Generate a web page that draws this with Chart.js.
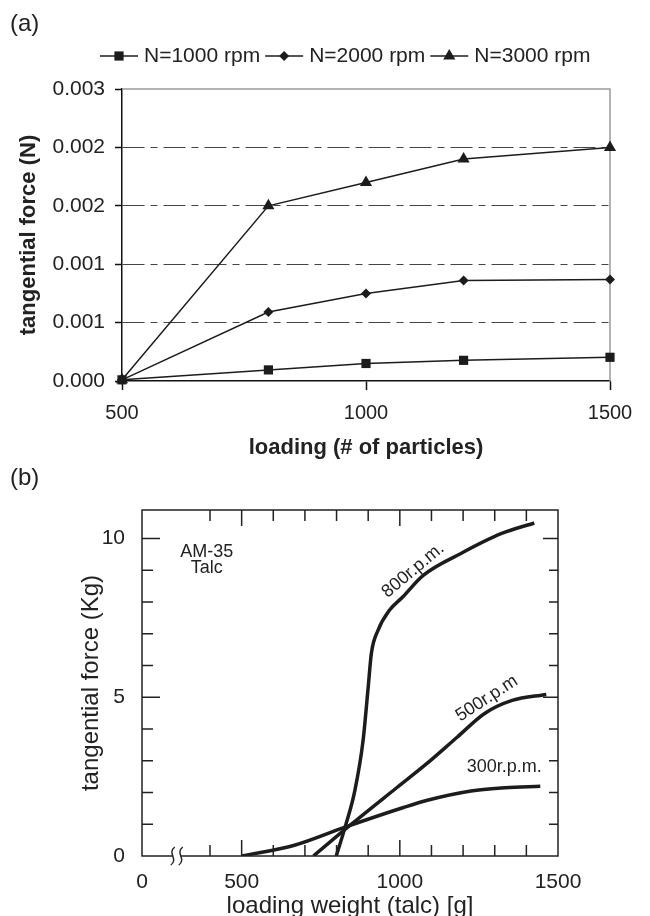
<!DOCTYPE html>
<html lang="en">
<head>
    <meta charset="UTF-8">
    <title>Tangential force vs loading</title>
    <script src="https://cdn.jsdelivr.net/npm/chart.js"></script>
    <style>
        body { margin: 0; background: #fff; overflow: hidden; }
        #wrap { position: relative; width: 650px; height: 916px; }
        canvas { position: absolute; left: 0; }
        .tag { position: absolute; left: 10px; font: 24px Arial, "Liberation Sans", sans-serif; color: #222; z-index: 2; }
    </style>
</head>
<body>
<div id="wrap">
    <canvas id="chartA" width="650" height="462" style="top:0"></canvas>
    <canvas id="chartB" width="650" height="470" style="top:462px"></canvas>
    <div class="tag" style="top:9px">(a)</div>
    <div class="tag" style="top:463px">(b)</div>
</div>

<script>
    // ---- panel (a) data ----
    const loadingA = [500, 800, 1000, 1200, 1500];
    const force1000 = [0.00001, 0.000095, 0.00015, 0.000177, 0.000203];
    const force2000 = [0.00001, 0.00059, 0.00075, 0.00086, 0.00087];
    const force3000 = [0.00001, 0.0015, 0.0017, 0.0019, 0.002];
    const yTicksA = [0, 0.0005, 0.001, 0.0015, 0.002, 0.0025];
    const yTickLabelsA = ['0.000', '0.001', '0.001', '0.002', '0.002', '0.003'];
    const xTicksA = [500, 1000, 1500];
    const xTickLabelsA = ['500', '1000', '1500'];

    // ---- panel (b) data ----
    const x300 = [500, 667, 827, 1009, 1084, 1225, 1333, 1444];
    const y300 = [0, 0.34, 0.91, 1.52, 1.75, 2.05, 2.15, 2.2];
    const x500 = [727, 843, 990, 1084, 1182, 1268, 1355, 1463];
    const y500 = [0, 0.97, 2.15, 2.9, 3.75, 4.49, 4.9, 5.09];
    const x800 = [799, 827, 858, 884, 900, 910, 931, 967, 1009, 1074, 1193, 1322, 1425];
    const y800 = [0, 0.91, 2.07, 3.65, 5.32, 6.38, 7.11, 7.74, 8.16, 8.84, 9.53, 10.16, 10.49];
    const xBreakMin = 185;   // axis is broken: this value is drawn as "0"
    const xBreakAt = 295;
    const xTicksB = [xBreakMin, 500, 1000, 1500];
    const xTickLabelsB = ['0', '500', '1000', '1500'];
    const xMinorB = [400, 500, 600, 700, 800, 900, 1000, 1100, 1200, 1300, 1400];
    const yTicksB = [0, 5, 10];
    const yTickLabelsB = ['0', '5', '10'];
    const yMinorB = [1, 2, 3, 4, 5, 6, 7, 8, 9, 10];

    const FONT = 'Arial, "Liberation Sans", sans-serif';
    const INK = '#1c1c1c';

    function pts(xs, ys) {
        return xs.map((x, i) => ({x: x, y: ys[i]}));
    }

    function marker(ctx, style, r, x, y) {
        ctx.fillStyle = INK;
        ctx.beginPath();
        if (style === 'rect') {
            const s = r * Math.SQRT1_2;
            ctx.rect(x - s, y - s, 2 * s, 2 * s);
        } else if (style === 'rectRot') {
            ctx.moveTo(x - r, y); ctx.lineTo(x, y - r); ctx.lineTo(x + r, y); ctx.lineTo(x, y + r);
        } else {
            const h = r * 0.5, w = r * Math.sin(Math.PI / 3);
            ctx.moveTo(x, y - r); ctx.lineTo(x + w, y + h); ctx.lineTo(x - w, y + h);
        }
        ctx.closePath();
        ctx.fill();
    }

    const legendA = {
        id: 'legendA',
        afterDraw(chart) {
            const ctx = chart.ctx;
            ctx.save();
            ctx.font = '21px ' + FONT;
            ctx.textBaseline = 'middle';
            let x = 100;
            const y = 56;
            chart.data.datasets.forEach(ds => {
                ctx.strokeStyle = INK;
                ctx.lineWidth = 1.5;
                ctx.beginPath(); ctx.moveTo(x, y); ctx.lineTo(x + 38, y); ctx.stroke();
                marker(ctx, ds.pointStyle, ds.pointRadius, x + 19, y);
                ctx.fillStyle = '#222';
                ctx.fillText(ds.label, x + 44, y);
                x += 44 + ctx.measureText(ds.label).width + 5;
            });
            ctx.restore();
        }
    };

    const frameA = {
        id: 'frameA',
        beforeDatasetsDraw(chart) {
            const {ctx, chartArea: a} = chart;
            ctx.save();
            ctx.strokeStyle = '#9a9a9a';
            ctx.lineWidth = 1.5;
            ctx.beginPath();
            ctx.moveTo(a.left, a.top); ctx.lineTo(a.right, a.top); ctx.lineTo(a.right, a.bottom);
            ctx.stroke();
            ctx.restore();
        }
    };

    new Chart(document.getElementById('chartA'), {
        type: 'line',
        data: {
            datasets: [
                {label: 'N=1000 rpm', data: pts(loadingA, force1000), pointStyle: 'rect', pointRadius: 6.5},
                {label: 'N=2000 rpm', data: pts(loadingA, force2000), pointStyle: 'rectRot', pointRadius: 5},
                {label: 'N=3000 rpm', data: pts(loadingA, force3000), pointStyle: 'triangle', pointRadius: 7}
            ].map(ds => Object.assign(ds, {
                borderColor: INK, backgroundColor: INK, borderWidth: 1.5,
                pointBorderWidth: 0, pointBackgroundColor: INK, tension: 0, clip: 8
            }))
        },
        options: {
            responsive: false,
            animation: false,
            devicePixelRatio: 1,
            layout: {padding: {top: 89, right: 40, left: 0, bottom: 0}},
            plugins: {legend: {display: false}, tooltip: {enabled: false}},
            scales: {
                x: {
                    type: 'linear', min: 500, max: 1500,
                    afterFit: s => { s.height = 81; },
                    afterBuildTicks: s => { s.ticks = xTicksA.map(v => ({value: v})); },
                    ticks: {
                        padding: 11, color: '#222', font: {family: FONT, size: 20},
                        callback: (v, i) => xTickLabelsA[i]
                    },
                    grid: {drawOnChartArea: false, tickLength: 9, tickColor: '#111', tickWidth: 1.5},
                    border: {color: '#111', width: 1.5},
                    title: {
                        display: true, text: 'loading (# of particles)', color: '#222',
                        font: {family: FONT, size: 22, weight: 'bold'}, padding: {top: 0, bottom: 1}
                    }
                },
                y: {
                    min: 0, max: 0.0025,
                    afterFit: s => { s.width = 122; },
                    afterBuildTicks: s => { s.ticks = yTicksA.map(v => ({value: v})); },
                    ticks: {
                        padding: 10, color: '#222', font: {family: FONT, size: 21},
                        callback: (v, i) => yTickLabelsA[i]
                    },
                    grid: {
                        color: c => (c.index === 0 || c.index === yTicksA.length - 1) ? 'rgba(0,0,0,0)' : '#444',
                        lineWidth: 1, tickLength: 7, tickColor: '#111', tickWidth: 1.5
                    },
                    border: {color: '#111', width: 1.5, dash: [22, 6, 7, 6]},
                    title: {
                        display: true, text: 'tangential force (N)', color: '#222',
                        font: {family: FONT, size: 22, weight: 'bold'}, padding: {top: 16, bottom: 0}
                    }
                }
            }
        },
        plugins: [frameA, legendA]
    });

    // ---- panel (b) ----
    const notesB = [
        {text: 'AM-35', x: 390, y: 9.57, angle: 0},
        {text: 'Talc', x: 390, y: 9.06, angle: 0},
        {text: '800r.p.m.', x: 1042, y: 9.0, angle: -40},
        {text: '500r.p.m', x: 1275, y: 4.96, angle: -33},
        {text: '300r.p.m.', x: 1330, y: 2.79, angle: 0}
    ];

    const frameB = {
        id: 'frameB',
        afterDraw(chart) {
            const {ctx, chartArea: a, scales: {x, y}} = chart;
            ctx.save();
            ctx.strokeStyle = '#222';
            ctx.lineWidth = 1.5;
            ctx.strokeRect(a.left, a.top, a.right - a.left, a.bottom - a.top);
            ctx.beginPath();
            xMinorB.forEach(v => {
                const px = x.getPixelForValue(v);
                const len = xTicksB.includes(v) ? 16 : 11;
                ctx.moveTo(px, a.bottom); ctx.lineTo(px, a.bottom - len);
                ctx.moveTo(px, a.top); ctx.lineTo(px, a.top + len);
            });
            yMinorB.forEach(v => {
                const py = y.getPixelForValue(v);
                const major = yTicksB.includes(v);
                ctx.moveTo(a.left, py); ctx.lineTo(a.left + (major ? 18 : 11), py);
                ctx.moveTo(a.right, py); ctx.lineTo(a.right - (major ? 15 : 9), py);
            });
            ctx.stroke();

            // axis break mark
            const bx = x.getPixelForValue(xBreakAt);
            ctx.fillStyle = '#fff';
            ctx.fillRect(bx - 4, a.bottom - 3, 8, 6);
            ctx.lineWidth = 1.4;
            [-4, 4].forEach(d => {
                ctx.beginPath();
                ctx.moveTo(bx + d + 2, a.bottom - 9);
                ctx.bezierCurveTo(bx + d - 6, a.bottom - 3, bx + d + 6, a.bottom + 3, bx + d - 2, a.bottom + 9);
                ctx.stroke();
            });

            ctx.fillStyle = '#222';
            ctx.font = '18px ' + FONT;
            ctx.textAlign = 'center';
            ctx.textBaseline = 'middle';
            notesB.forEach(n => {
                ctx.save();
                ctx.translate(x.getPixelForValue(n.x), y.getPixelForValue(n.y));
                ctx.rotate(n.angle * Math.PI / 180);
                ctx.fillText(n.text, 0, 0);
                ctx.restore();
            });
            ctx.restore();
        }
    };

    new Chart(document.getElementById('chartB'), {
        type: 'line',
        data: {
            datasets: [
                {label: '300r.p.m.', data: pts(x300, y300)},
                {label: '500r.p.m', data: pts(x500, y500)},
                {label: '800r.p.m.', data: pts(x800, y800)}
            ].map(ds => Object.assign(ds, {
                borderColor: INK, borderWidth: 3.5, pointRadius: 0,
                cubicInterpolationMode: 'monotone', tension: 0.4
            }))
        },
        options: {
            responsive: false,
            animation: false,
            devicePixelRatio: 1,
            layout: {padding: {top: 48, right: 92, left: 0, bottom: 0}},
            plugins: {legend: {display: false}, tooltip: {enabled: false}},
            scales: {
                x: {
                    type: 'linear', min: xBreakMin, max: 1500,
                    afterFit: s => { s.height = 76; },
                    afterBuildTicks: s => { s.ticks = xTicksB.map(v => ({value: v})); },
                    ticks: {
                        padding: 6, color: '#222', font: {family: FONT, size: 21},
                        callback: (v, i) => xTickLabelsB[i]
                    },
                    grid: {display: false},
                    border: {display: false},
                    title: {
                        display: true, text: 'loading weight (talc) [g]', color: '#222',
                        font: {family: FONT, size: 24}, padding: {top: 0, bottom: 11}
                    }
                },
                y: {
                    min: 0, max: 10.9,
                    afterFit: s => { s.width = 142; },
                    afterBuildTicks: s => { s.ticks = yTicksB.map(v => ({value: v})); },
                    ticks: {
                        padding: 9, color: '#222', font: {family: FONT, size: 21},
                        callback: (v, i) => yTickLabelsB[i]
                    },
                    grid: {display: false},
                    border: {display: false},
                    title: {
                        display: true, text: 'tangential force (Kg)', color: '#222',
                        font: {family: FONT, size: 24}, padding: {top: 77, bottom: 0}
                    }
                }
            }
        },
        plugins: [frameB]
    });
</script>
</body>
</html>
